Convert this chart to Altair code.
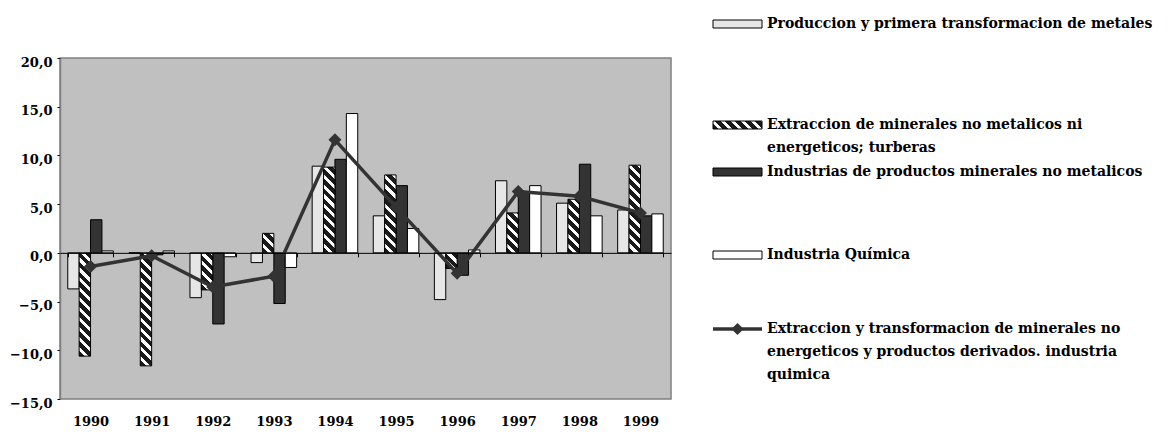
import math
import altair as alt
import pandas as pd

# ---------------- data ----------------
years = ["1990", "1991", "1992", "1993", "1994", "1995", "1996", "1997", "1998", "1999"]
series = [
    "Produccion y primera transformacion de metales",
    "Extraccion de minerales no metalicos ni energeticos; turberas",
    "Industrias de productos minerales no metalicos",
    "Industria Química",
]
line_name = ("Extraccion y transformacion de minerales no energeticos y productos "
             "derivados. industria quimica")

metales = [-3.7, 0.0, -4.6, -1.0, 8.9, 3.8, -4.8, 7.4, 5.1, 4.4]
extraccion = [-10.6, -11.6, -3.8, 2.0, 8.8, 8.0, -1.6, 4.1, 5.5, 9.0]
industrias = [3.4, -0.2, -7.3, -5.2, 9.6, 6.9, -2.3, 6.2, 9.1, 3.8]
quimica = [0.2, 0.2, -0.4, -1.5, 14.3, 2.5, 0.3, 6.9, 3.8, 4.0]
total = [-1.4, -0.3, -3.5, -2.4, 11.6, 4.7, -2.1, 6.3, 5.8, 4.1]

y_ticks = [-15, -10, -5, 0, 5, 10, 15, 20]

# ---------------- layout / style ----------------
W, H = 611, 341
Y_MIN, Y_MAX = -15, 20
PAD_INNER, PAD_OUTER = 0.254, 0.127
FONT = "DejaVu Serif"
FS = 13
LFS = 14
DARK = "#333333"

step = W / len(years)
bar_w = step * (1 - PAD_INNER) / len(series)
px_per_unit = H / (Y_MAX - Y_MIN)
zero_from_bottom = H * (0 - Y_MIN) / (Y_MAX - Y_MIN)


def hatch(w, h, period=7.0, black=0.58, dark="#1a1a1a", light="white"):
    """Diagonal '\\' stripes as a bounding-box linear gradient."""
    h = max(h, 1.0)
    iw, ih = 1.0 / w, 1.0 / h
    s = (ih + iw) / (ih ** 2 + iw ** 2)
    x2, y2 = s * ih, 1 - s * iw
    extent = (w + h) / math.sqrt(2)
    f = period / extent
    stops = []
    t = 0.0
    while t < 1.0:
        b = min(t + black * f, 1.0)
        e = min(t + f, 1.0)
        stops += [(t, dark), (b, dark)]
        if b < 1.0:
            stops += [(b, light), (e, light)]
        t += f
    return alt.LinearGradient(
        gradient="linear", x1=0, y1=1, x2=x2, y2=y2,
        stops=[alt.GradientStop(offset=round(o, 5), color=c) for o, c in stops],
    )


def X():
    return alt.X(
        "year:N", title=None,
        scale=alt.Scale(domain=years, paddingInner=PAD_INNER, paddingOuter=PAD_OUTER),
        axis=alt.Axis(offset=-zero_from_bottom, domain=True, domainColor="black",
                      domainWidth=1, ticks=True, tickBand="extent", tickSize=4,
                      tickColor="black", labelAngle=0,
                      labelPadding=zero_from_bottom + 12, labelFont=FONT,
                      labelFontWeight="bold", labelFontSize=FS, labelColor="black",
                      zindex=1),
    )


def Y():
    return alt.Y(
        "value:Q", title=None,
        scale=alt.Scale(domain=[Y_MIN, Y_MAX], nice=False, zero=False),
        axis=alt.Axis(values=y_ticks,
                      labelExpr="replace(format(datum.value, '.1f'), '.', ',')",
                      grid=False, domainColor="#808080", domainWidth=1.5,
                      tickColor="black", tickSize=3, labelPadding=5, labelOffset=4,
                      labelFont=FONT, labelFontWeight="bold", labelFontSize=FS,
                      labelColor="black"),
    )


def XOFF():
    return alt.XOffset("series:N",
                       scale=alt.Scale(domain=series, paddingInner=0, paddingOuter=0))


# long table of the plain-filled bar series
rows = []
for name, vals in [(series[0], metales), (series[2], industrias), (series[3], quimica)]:
    for yr, v in zip(years, vals):
        rows.append({"year": yr, "series": name, "value": v})
bars_df = pd.DataFrame(rows)

bars = alt.Chart(bars_df).mark_bar(stroke="black", strokeWidth=1).encode(
    x=X(), xOffset=XOFF(), y=Y(),
    fill=alt.Fill("series:N", legend=None,
                  scale=alt.Scale(domain=[series[0], series[2], series[3]],
                                  range=["#e6e6e6", DARK, "white"])),
)

# hatched series: one layer per bar so each gets stripes of constant pixel spacing
hatched_layers = []
for yr, v in zip(years, extraccion):
    df = pd.DataFrame({"year": [yr], "series": [series[1]], "value": [v]})
    hatched_layers.append(
        alt.Chart(df).mark_bar(stroke="black", strokeWidth=1,
                               fill=hatch(bar_w, abs(v) * px_per_unit)).encode(
            x=X(), xOffset=XOFF(), y=Y())
    )

line_df = pd.DataFrame({"year": years, "value": total})
line = alt.Chart(line_df).mark_line(
    color=DARK, strokeWidth=3.5,
    point=alt.OverlayMarkDef(shape="diamond", size=170, filled=True, color=DARK),
).encode(x=X(), y=Y())

# ---------------- legend (drawn manually to the right) ----------------
SW_X0, SW_X1, TXT_X = 653, 702, 707
LH = 23
legend_entries = [
    ([series[0]], -34, "e"),
    (["Extraccion de minerales no metalicos ni", "energeticos; turberas"], 67, "h"),
    ([series[2]], 114, "d"),
    ([series[3]], 197, "w"),
    (["Extraccion y transformacion de minerales no",
      "energeticos y productos derivados. industria", "quimica"], 271, "l"),
]
legend_layers = []
one = pd.DataFrame({"k": [0]})
for lines, yc, kind in legend_entries:
    if kind == "l":
        legend_layers.append(alt.Chart(one).mark_rule(color=DARK, strokeWidth=3.5).encode(
            x=alt.value(SW_X0), x2=alt.value(SW_X1), y=alt.value(yc)))
        legend_layers.append(alt.Chart(one).mark_point(
            shape="diamond", size=150, filled=True, color=DARK, opacity=1).encode(
            x=alt.value((SW_X0 + SW_X1) / 2), y=alt.value(yc)))
    else:
        fill = {"e": "#e6e6e6", "d": DARK, "w": "white"}.get(kind)
        if kind == "h":
            fill = hatch(SW_X1 - SW_X0, 8)
        legend_layers.append(alt.Chart(one).mark_rect(
            fill=fill, stroke="black", strokeWidth=1).encode(
            x=alt.value(SW_X0), x2=alt.value(SW_X1),
            y=alt.value(yc - 4), y2=alt.value(yc + 4)))
    for i, ln in enumerate(lines):
        legend_layers.append(alt.Chart(pd.DataFrame({"t": [ln]})).mark_text(
            align="left", baseline="middle", font=FONT, fontWeight="bold",
            fontSize=LFS, color="black").encode(
            text="t:N", x=alt.value(TXT_X), y=alt.value(yc + i * LH)))

chart = alt.layer(bars, *hatched_layers, line, *legend_layers).properties(
    width=W, height=H,
    padding={"left": 52, "top": 50, "right": 490, "bottom": 30},
    autosize=alt.AutoSizeParams(type="none"),
    background="white",
).configure_view(
    fill="#c0c0c0", stroke="#808080", strokeWidth=1.5
)

chart.save("out.html", embed_options={"renderer": "svg", "actions": False})
